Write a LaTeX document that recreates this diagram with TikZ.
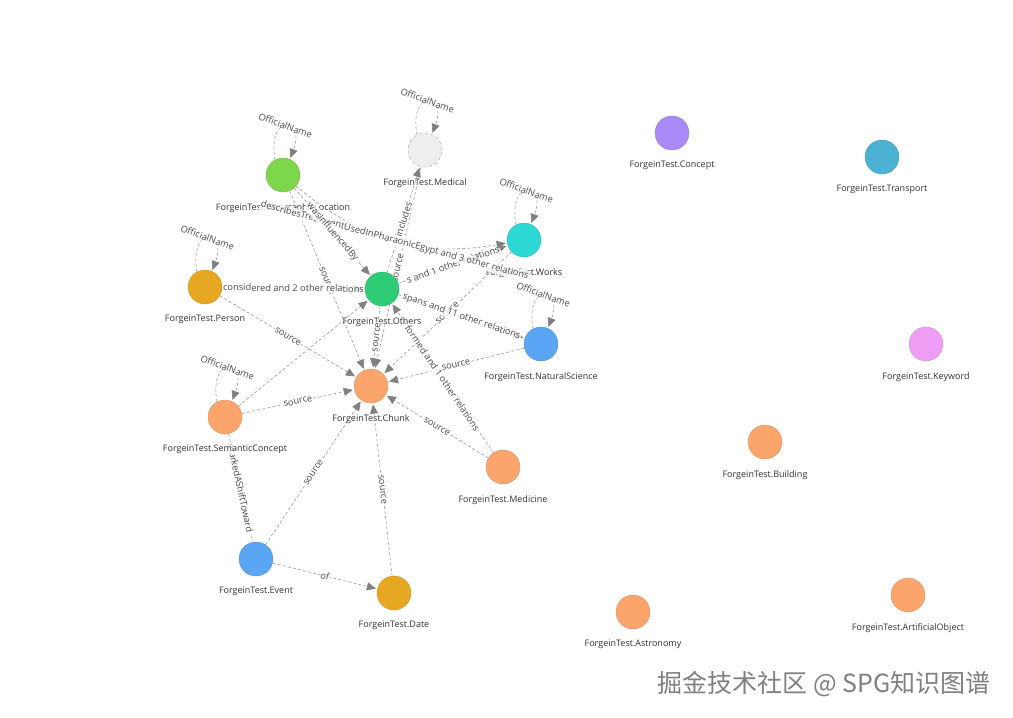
\documentclass[tikz,border=0pt]{standalone}
\usepackage{fontspec}
\setmainfont{Open Sans}
\newfontfamily\cjkfont{Noto Sans CJK SC}
\usetikzlibrary{positioning, arrows.meta}

\definecolor{grass}{HTML}{7ED64B}
\definecolor{fog}{HTML}{EEEEEE}
\definecolor{aqua}{HTML}{2BD8D4}
\definecolor{jade}{HTML}{2ECC74}
\definecolor{amber}{HTML}{E6A823}
\definecolor{sky}{HTML}{5BA5F5}
\definecolor{peach}{HTML}{FBA56D}
\definecolor{violet}{HTML}{A98BF8}
\definecolor{teal}{HTML}{4BB2D3}
\definecolor{orchid}{HTML}{EE9DF5}

\pgfdeclarelayer{paper}
\pgfdeclarelayer{under}
\pgfdeclarelayer{names}
\pgfdeclarelayer{links}
\pgfsetlayers{paper,under,names,links,main}

\tikzset{
  ent/.style={circle, minimum size=34pt, inner sep=0pt, fill=#1, draw=#1!85!black, line width=0.3pt},
  namelbl/.style={below=10pt of #1, font=\fontsize{9}{10.5}\selectfont, text=black!80,
    fill=white, fill opacity=0.7, text opacity=1, inner sep=1pt},
  relline/.style={draw=black!40, line width=0.6pt, dash pattern=on 3pt off 2.2pt,
    -{Triangle[length=9pt,width=8pt,color=black!50]}, shorten >=1.5pt},
  rellbl/.style={font=\fontsize{9.3}{11}\selectfont, text=black!70, fill=white,
    fill opacity=0.8, text opacity=1, inner sep=1pt, sloped, midway},
  looplbl/.style={font=\fontsize{9.3}{11}\selectfont, text=black!70, fill=white,
    fill opacity=0.8, text opacity=1, inner sep=1pt, rotate=-20, pos=0.5}
}

\begin{document}
\begin{tikzpicture}[x=1pt,y=-1pt]
\begin{pgfonlayer}{paper}
\fill[white] (0,0) rectangle (1013,718);
\end{pgfonlayer}
\useasboundingbox (0,0) rectangle (1013,718);

% entity types
\node[ent=grass] (geo) at (283,175) {};
\node[ent=fog, draw=black!45, dashed] (medical) at (425,150) {};
\node[ent=aqua] (works) at (524,240) {};
\node[ent=amber] (person) at (205,287) {};
\node[ent=jade] (others) at (382,289) {};
\node[ent=sky] (natsci) at (541,344) {};
\node[ent=peach] (chunk) at (371,386) {};
\node[ent=peach] (semc) at (225,417) {};
\node[ent=peach] (medicine) at (503,467) {};
\node[ent=sky] (event) at (256,559) {};
\node[ent=amber] (date) at (394,593) {};
\node[ent=violet] (concept) at (672,133) {};
\node[ent=teal] (transport) at (882,157) {};
\node[ent=orchid] (keyword) at (926,344) {};
\node[ent=peach] (building) at (765,442) {};
\node[ent=peach] (astronomy) at (633,612) {};
\node[ent=peach] (artobj) at (908,595) {};

% type names
\begin{pgfonlayer}{names}
\node[namelbl=geo] (geolbl) {ForgeinTest.GeographicLocation};
\node[namelbl=medical] (medicallbl) {ForgeinTest.Medical};
\node[namelbl=works] (workslbl) {ForgeinTest.Works};
\node[namelbl=person] (personlbl) {ForgeinTest.Person};
\node[namelbl=others] (otherslbl) {ForgeinTest.Others};
\node[namelbl=natsci] (natscilbl) {ForgeinTest.NaturalScience};
\node[namelbl=chunk] (chunklbl) {ForgeinTest.Chunk};
\node[namelbl=semc] (semclbl) {ForgeinTest.SemanticConcept};
\node[namelbl=medicine] (medicinelbl) {ForgeinTest.Medicine};
\node[namelbl=event] (eventlbl) {ForgeinTest.Event};
\node[namelbl=date] (datelbl) {ForgeinTest.Date};
\node[namelbl=concept] (conceptlbl) {ForgeinTest.Concept};
\node[namelbl=transport] (transportlbl) {ForgeinTest.Transport};
\node[namelbl=keyword] (keywordlbl) {ForgeinTest.Keyword};
\node[namelbl=building] (buildinglbl) {ForgeinTest.Building};
\node[namelbl=astronomy] (astronomylbl) {ForgeinTest.Astronomy};
\node[namelbl=artobj] (artobjlbl) {ForgeinTest.ArtificialObject};
\end{pgfonlayer}

\begin{pgfonlayer}{under}
\draw[relline, -] (semc) -- node[rellbl] {markedAShiftToward} (event);
\end{pgfonlayer}

% relations
\begin{pgfonlayer}{links}
\foreach \n in {geo, medical, works, person, natsci, semc}
  \draw[relline] (\n.118) to[out=100,in=70,looseness=8] node[looplbl] {OfficialName} (\n.66);

\draw[relline] (event) -- node[rellbl] {of} (date);
\draw[relline] (event) -- node[rellbl] {source} (chunk);
\draw[relline] (date) -- node[rellbl] {source} (chunk);
\draw[relline] (medicine) -- node[rellbl] {source} (chunk);
\draw[relline] (natsci) -- node[rellbl] {source} (chunk);
\draw[relline] (works) -- node[rellbl] {source} (chunk);
\draw[relline] (semc) -- node[rellbl] {source} (chunk);
\draw[relline] (semc) -- (others);
\draw[relline] (medical) -- node[rellbl] {source} (chunk);
\draw[relline] (others) -- node[rellbl] {source} (chunk);
\draw[relline] (geo) -- node[rellbl] {source} (chunk);
\draw[relline] (person) -- node[rellbl] {source} (chunk);
\draw[relline] (person) -- node[rellbl] {considered and 2 other relations} (others);
\draw[relline] (medicine) -- node[rellbl] {formed and 1 other relations} (others);
\draw[relline] (others) -- node[rellbl] {spans and 11 other relations} (natsci);
\draw[relline] (others) -- node[rellbl] {s and 1 other relations} (works);
\draw[relline] (others) -- node[rellbl] {includes} (medical);
\draw[relline] (geo) to[bend right=25] node[rellbl] {describesTreatmentUsedInPharaonicEgypt and 3 other relations} (works);
\draw[relline] (geo) -- node[rellbl] {wasInfluencedBy} (others);
\end{pgfonlayer}

\node[font=\cjkfont\fontsize{25}{28}\selectfont, text=black!50, anchor=east] (mark) at (994,684) {掘金技术社区 @ SPG知识图谱};
\end{tikzpicture}
\end{document}
